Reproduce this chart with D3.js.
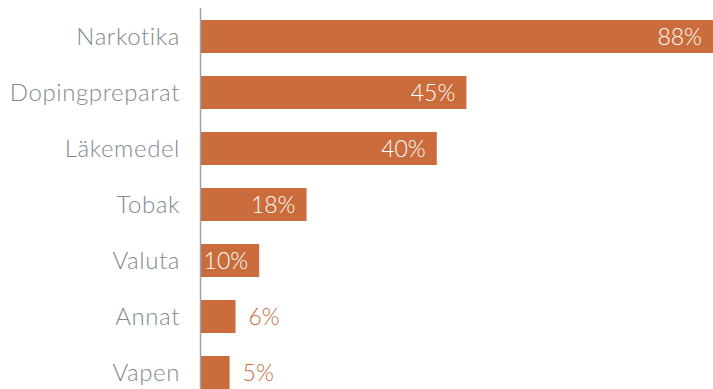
<!DOCTYPE html>
<html>
<head>
<meta charset="utf-8">
<script src="https://cdn.jsdelivr.net/npm/d3@7"></script>
<style>
    body { margin: 0; background: #fff; }
    #chart { width: 713px; height: 389px; overflow: hidden; }
    text { font-family: Lato, 'Open Sans', sans-serif; font-weight: 300; }
</style>
</head>
<body>
<div id="chart"></div>
<script>
//Datos
const categorias = ['Narkotika', 'Dopingpreparat', 'Läkemedel', 'Tobak', 'Valuta', 'Annat', 'Vapen'];
const valores = [88, 45, 40, 18, 10, 6, 5];

//Colores fijos
const COLOR_BAR = '#CA6C3B',
COLOR_TEXT = '#7F8A8F',
COLOR_AXIS = '#9DA4A8';

let margin = {top: 0, right: 0, bottom: 0, left: 200},
    width = 713 - margin.left - margin.right,
    height = 389 - margin.top - margin.bottom;

let svg = d3.select('#chart')
    .append('svg')
        .attr('width', width + margin.left + margin.right)
        .attr('height', height + margin.top + margin.bottom)
    .append('g')
        .attr('transform', 'translate(' + margin.left + ',' + margin.top + ')');

let data = categorias.map(function(c, i) { return {cat: c, value: valores[i]}; });

let x = d3.scaleLinear()
    .domain([0, 100])
    .range([0, 592]);

let y = d3.scaleBand()
    .domain(categorias)
    .range([8.5, 400.5])
    .paddingInner(0.41)
    .paddingOuter(0.205);

//Barras
svg.append('g')
    .selectAll('rect')
    .data(data)
    .enter()
    .append('rect')
    .attr('x', x(0))
    .attr('y', function(d) { return y(d.cat); })
    .attr('width', function(d) { return x(d.value); })
    .attr('height', y.bandwidth())
    .attr('fill', COLOR_BAR);

//Eje vertical
svg.append('line')
    .attr('x1', 0.5).attr('x2', 0.5)
    .attr('y1', 8).attr('y2', height)
    .attr('stroke', COLOR_AXIS)
    .attr('stroke-width', 1.5);

//Etiquetas de categorías
svg.append('g')
    .selectAll('text')
    .data(data)
    .enter()
    .append('text')
    .attr('x', -20)
    .attr('y', function(d) { return y(d.cat) + y.bandwidth() / 2; })
    .attr('dy', '0.35em')
    .attr('text-anchor', 'end')
    .attr('fill', COLOR_TEXT)
    .style('font-size', '24px')
    .style('letter-spacing', '0.6px')
    .text(function(d) { return d.cat; });

//Valores
svg.append('g')
    .selectAll('text')
    .data(data)
    .enter()
    .append('text')
    .attr('x', function(d) {
        let end = Math.min(x(d.value), width);
        return d.value >= 10 ? end - 11 : end + 13;
    })
    .attr('y', function(d) { return y(d.cat) + y.bandwidth() / 2; })
    .attr('dy', '0.35em')
    .attr('text-anchor', function(d) { return d.value >= 10 ? 'end' : 'start'; })
    .attr('fill', function(d) { return d.value >= 10 ? '#fff' : COLOR_BAR; })
    .style('font-size', '23px')
    .text(function(d) { return d.value + '%'; });
</script>
</body>
</html>
